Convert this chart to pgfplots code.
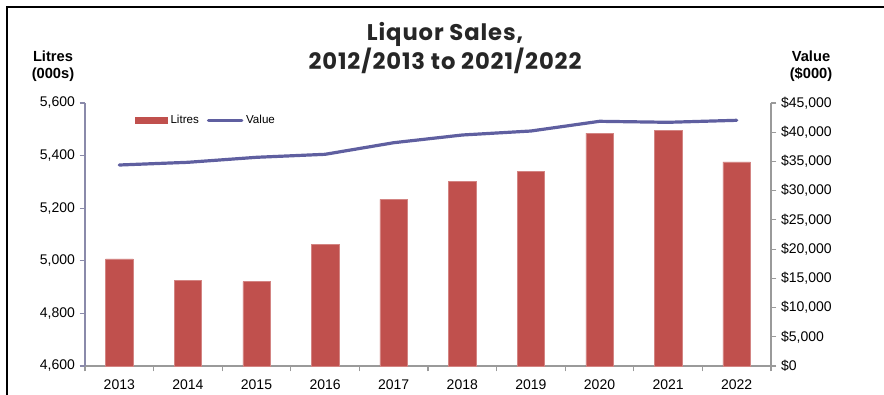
\documentclass[border=0pt]{standalone}
\usepackage{fontspec}
\setmainfont{Liberation Sans}
\newfontfamily\titlefont[LetterSpace=4]{Poppins}
\usepackage{pgfplots}
\pgfplotsset{compat=1.18}
\definecolor{barred}{HTML}{C0504D}
\definecolor{lineblue}{HTML}{5F5FA0}
\definecolor{axgray}{HTML}{9A9A9A}
\definecolor{axblue}{HTML}{8A8AAA}
\begin{document}
\begin{tikzpicture}[x=0.75pt,y=0.75pt]
\useasboundingbox (0,0) rectangle (884,394);
\draw[line width=1.2pt,black] (7,-5) -- (7,387) -- (890,387);
\node[font=\titlefont\bfseries\fontsize{17}{20.5}\selectfont, text=black!85, align=center] at (445,346) {Liquor Sales,\\2012/2013 to 2021/2022};
\node[font=\bfseries\fontsize{11}{13}\selectfont, align=center] at (53,328) {Litres\\(000s)};
\node[font=\bfseries\fontsize{11}{13}\selectfont, align=center] at (811,328) {Value\\(\$000)};
\begin{axis}[
  at={(63.75pt,21pt)}, anchor=south west,
  scale only axis, width=514.5pt, height=197.25pt,
  xmin=0.5, xmax=10.5, ymin=4600, ymax=5600,
  axis x line*=bottom, axis y line*=left,
  x axis line style={draw=axgray, line width=0.8pt, -},
  y axis line style={draw=axblue, line width=0.8pt, -},
  xtick={1,...,10},
  xticklabels={2013,2014,2015,2016,2017,2018,2019,2020,2021,2022},
  major x tick style={draw=none},
  minor xtick={0.5,1.5,...,10.5},
  minor x tick style={draw=axgray, line width=0.8pt},
  minor tick length=4pt,
  ytick={4600,4800,...,5600},
  y tick style={draw=axblue, line width=0.8pt},
  major tick length=4pt,
  tick align=outside,
  ticklabel style={font=\fontsize{10.5}{12}\selectfont},
  xticklabel style={yshift=-3pt},
  yticklabel style={/pgf/number format/.cd, fixed, 1000 sep={,}},
  /pgf/number format/assume math mode=true,
  ]
\addplot[ybar, bar width=20.6pt, fill=barred, draw=barred!70!white, line width=0.4pt] coordinates {
(1,5007) (2,4926) (3,4921) (4,5063) (5,5234) (6,5303) (7,5340) (8,5485) (9,5496) (10,5376)
};
\end{axis}
\begin{axis}[
  at={(63.75pt,21pt)}, anchor=south west,
  scale only axis, width=514.5pt, height=197.25pt,
  xmin=0.5, xmax=10.5, ymin=0, ymax=45000,
  axis x line=none, axis y line*=right,
  y axis line style={draw=axgray, line width=0.8pt, -},
  ytick={0,5000,...,45000},
  y tick style={draw=axgray, line width=0.8pt},
  major tick length=4pt,
  tick align=outside,
  ticklabel style={font=\fontsize{10.5}{12}\selectfont},
  yticklabel={\$\pgfmathprintnumber[fixed,1000 sep={,}]{\tick}},
  /pgf/number format/assume math mode=true,
  scaled y ticks=false,
  legend style={draw=none, fill=none, at={(0.073,0.935)}, anchor=west, legend columns=2,
    font=\fontsize{8.7}{10}\selectfont, inner sep=0pt,
    /tikz/every even column/.append style={column sep=4pt}},
  legend cell align=left,
  ]
\addlegendimage{legend image code/.code={\fill[barred] (0pt,-2.4pt) rectangle (24pt,2.4pt);}}
\addlegendentry{Litres}
\addplot[color=lineblue, line width=2.4pt, line join=round, line cap=round, mark=none,
  legend image code/.code={\draw[lineblue, line width=2.4pt] (0pt,0pt) -- (25pt,0pt);}] coordinates {
(1,34392) (2,34854) (3,35709) (4,36222) (5,38207) (6,39525) (7,40209) (8,41869) (9,41698) (10,42040)
};
\addlegendentry{Value}
\end{axis}
\end{tikzpicture}
\end{document}
